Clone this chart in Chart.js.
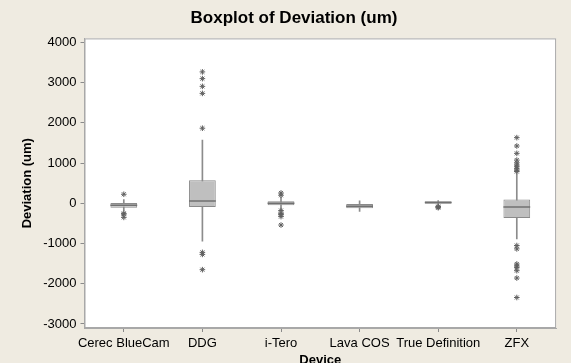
<!DOCTYPE html>
<html lang="en">
<head>
    <meta charset="UTF-8">
    <title>Boxplot of Deviation (um)</title>
    <style>
        html, body {
            margin: 0;
            padding: 0;
            background: #efebe1;
        }
        canvas {
            display: block;
        }
    </style>
    <script src="https://cdn.jsdelivr.net/npm/chart.js"></script>
</head>
<body>
    <canvas id="boxChart" width="571" height="363"></canvas>

    <script>
        // values
        const devices = ['Cerec BlueCam', 'DDG', 'i-Tero', 'Lava COS', 'True Definition', 'ZFX'];
        const whiskerLow = [-180, -942, -160, -200, -40, -883];
        const q1 = [-108, -92, -50, -125, -8, -367];
        const median = [-50, 58, 0, -70, 20, -92];
        const q3 = [8, 575, 50, -15, 50, 92];
        const whiskerHigh = [90, 1575, 150, 60, 70, 742];
        const outliers = [
            [225, -250, -270, -350],
            [3267, 3100, 2908, 2733, 1867, -1220, -1270, -1650],
            [258, 200, -180, -250, -280, -330, -540],
            [],
            [-80, -95, -110],
            [1633, 1425, 1242, 1075, 1008, 950, 908, 860, 825, 790,
             -1050, -1133, -1508, -1560, -1592, -1675, -1858, -2342]
        ];
        const yTicks = [-3000, -2000, -1000, 0, 1000, 2000, 3000, 4000];

        const outlierPoints = [];
        outliers.forEach((list, i) => {
            list.forEach(v => outlierPoints.push({ x: devices[i], y: v }));
        });

        // white plot area with a thin frame
        const plotFrame = {
            id: 'plotFrame',
            beforeDraw(chart) {
                const { ctx, chartArea: a } = chart;
                ctx.save();
                ctx.fillStyle = '#ffffff';
                ctx.fillRect(a.left, a.top, a.right - a.left, a.bottom - a.top);
                ctx.restore();
            },
            afterDraw(chart) {
                const { ctx, chartArea: a } = chart;
                ctx.save();
                ctx.strokeStyle = '#a8a8a8';
                ctx.lineWidth = 1;
                ctx.strokeRect(a.left + 0.5, a.top + 0.5, a.right - a.left - 1, a.bottom - a.top - 1);
                ctx.restore();
            }
        };

        const tickFont = { family: 'Liberation Sans', size: 13 };

        new Chart(document.getElementById('boxChart'), {
            type: 'bar',
            data: {
                labels: devices,
                datasets: [
                    {
                        label: 'Whisker',
                        data: devices.map((d, i) => [whiskerLow[i], whiskerHigh[i]]),
                        backgroundColor: '#8c8c8c',
                        barThickness: 1,
                        grouped: false,
                        order: 4
                    },
                    {
                        label: 'Box',
                        data: devices.map((d, i) => [q1[i], q3[i]]),
                        backgroundColor: '#bfbfbf',
                        borderColor: '#8a8a8a',
                        borderWidth: 1,
                        borderSkipped: false,
                        barPercentage: 0.34,
                        categoryPercentage: 1,
                        grouped: false,
                        order: 3
                    },
                    {
                        type: 'line',
                        label: 'Median',
                        data: median,
                        showLine: false,
                        pointStyle: 'line',
                        pointRadius: 13.4,
                        borderColor: '#707070',
                        borderWidth: 1.5,
                        order: 2
                    },
                    {
                        type: 'line',
                        label: 'Outliers',
                        data: outlierPoints,
                        showLine: false,
                        pointStyle: 'star',
                        pointRadius: 2.8,
                        borderColor: '#606060',
                        backgroundColor: '#606060',
                        borderWidth: 1,
                        order: 1
                    }
                ]
            },
            options: {
                responsive: false,
                animation: false,
                devicePixelRatio: 1,
                layout: {
                    // extra left padding nudges the centred title to the right
                    padding: { top: 0, right: 13, bottom: 0, left: 30 }
                },
                plugins: {
                    legend: { display: false },
                    tooltip: { enabled: false },
                    title: {
                        display: true,
                        text: 'Boxplot of Deviation (um)',
                        color: '#000',
                        font: { family: 'Liberation Sans', size: 17, weight: 'bold' },
                        padding: { top: 8, bottom: 10 }
                    }
                },
                scales: {
                    x: {
                        offset: true,
                        afterFit(scale) { scale.height = 35; },
                        grid: {
                            offset: false,
                            drawOnChartArea: false,
                            drawTicks: true,
                            tickLength: 4,
                            color: '#8a8a8a'
                        },
                        border: { display: true, color: '#a8a8a8' },
                        ticks: {
                            color: '#000',
                            font: tickFont,
                            padding: 4,
                            maxRotation: 0,
                            autoSkip: false
                        },
                        title: {
                            display: true,
                            text: 'Device',
                            color: '#000',
                            font: { family: 'Liberation Sans', size: 13, weight: 'bold', lineHeight: 0.4 },
                            padding: { top: 0, bottom: 0 }
                        }
                    },
                    y: {
                        min: -3100,
                        max: 4100,
                        afterFit(scale) { scale.width = 54.5; },
                        afterBuildTicks(scale) {
                            scale.ticks = yTicks.map(v => ({ value: v }));
                        },
                        grid: {
                            drawOnChartArea: false,
                            drawTicks: true,
                            tickLength: 4,
                            color: '#8a8a8a'
                        },
                        border: { display: true, color: '#a8a8a8' },
                        ticks: {
                            color: '#000',
                            font: tickFont,
                            padding: 4,
                            callback: v => String(v)
                        },
                        title: {
                            display: true,
                            text: 'Deviation (um)',
                            color: '#000',
                            font: { family: 'Liberation Sans', size: 13, weight: 'bold' },
                            padding: { top: -10, bottom: 0 }
                        }
                    }
                }
            },
            plugins: [plotFrame]
        });
    </script>
</body>
</html>
